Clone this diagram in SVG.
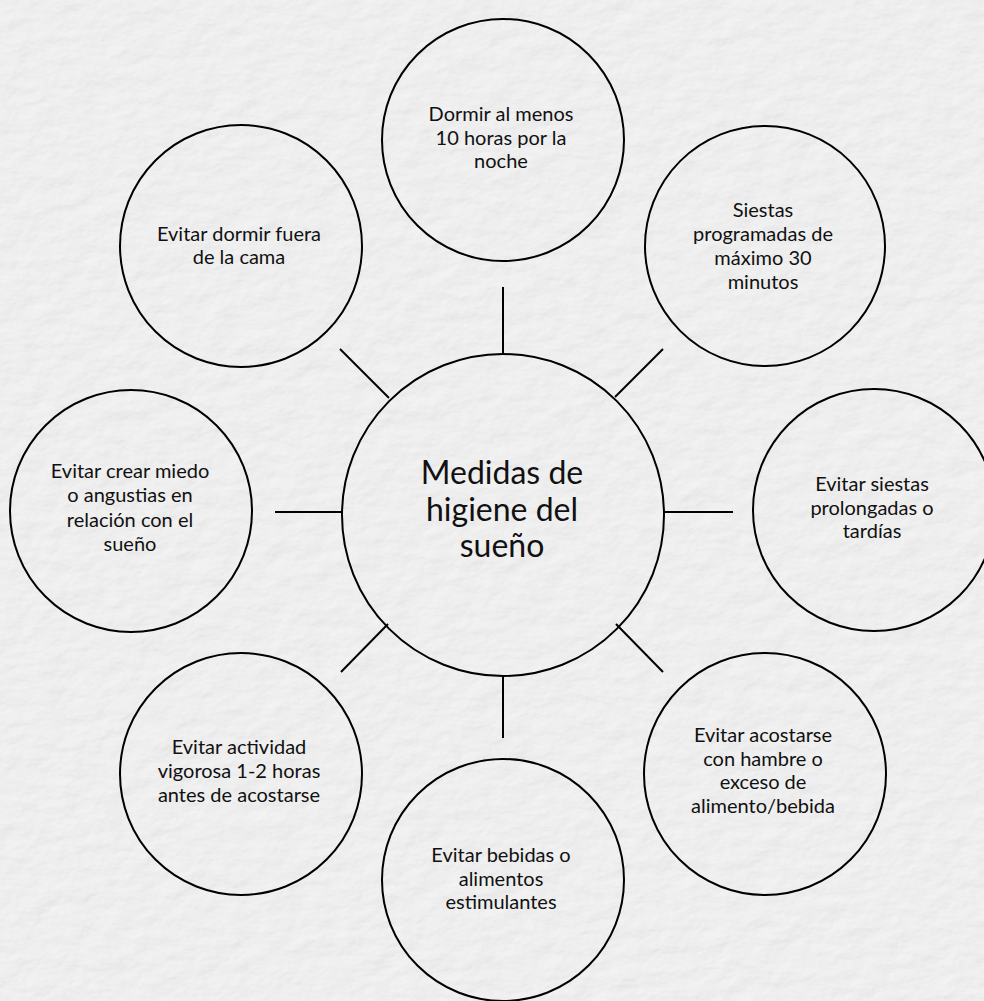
<svg xmlns="http://www.w3.org/2000/svg" width="984" height="1001" viewBox="0 0 984 1001">
<defs>
<style>
.node{fill:none;stroke:#000;stroke-width:2}
.conn line{stroke:#000;stroke-width:2}
text{font-family:Lato,"Liberation Sans",sans-serif;fill:#111;text-anchor:middle}
.t{font-size:20px}
.c{font-size:32px}
</style>
<filter id="paper" x="0" y="0" width="100%" height="100%">
<feTurbulence type="fractalNoise" baseFrequency="0.035 0.06" numOctaves="5" seed="3" result="n"/>
<feDiffuseLighting in="n" surfaceScale="2" lighting-color="#ffffff" diffuseConstant="1" result="l">
<feDistantLight azimuth="225" elevation="55"/>
</feDiffuseLighting>
<feColorMatrix type="matrix" values="0.3 0 0 0 0.61  0.3 0 0 0 0.61  0.3 0 0 0 0.61  0 0 0 0 1"/>
</filter>
</defs>
<rect width="984" height="1001" fill="#e4e4e4"/>
<rect width="984" height="1001" filter="url(#paper)"/>
<g class="conn">
<line x1="503" y1="287" x2="503" y2="354"/>
<line x1="503" y1="676" x2="503" y2="738"/>
<line x1="275" y1="512" x2="342" y2="512"/>
<line x1="665" y1="512" x2="733" y2="512"/>
<line x1="340" y1="349" x2="389" y2="398"/>
<line x1="663" y1="349" x2="615" y2="397"/>
<line x1="341" y1="672" x2="388" y2="624"/>
<line x1="663" y1="672" x2="616" y2="624"/>
</g>
<g id="center"><circle class="node" cx="503" cy="515" r="161"/>
<text class="c"><tspan x="502" y="484">Medidas de</tspan><tspan x="502" y="520.5">higiene del</tspan><tspan x="502" y="557">sueño</tspan></text></g>
<g id="n1"><circle class="node" cx="503" cy="140" r="121"/>
<text class="t"><tspan x="501" y="121">Dormir al menos</tspan><tspan x="501" y="144.5">10 horas por la</tspan><tspan x="501" y="168">noche</tspan></text></g>
<g id="n2"><circle class="node" cx="765" cy="246" r="120"/>
<text class="t"><tspan x="763" y="217">Siestas</tspan><tspan x="763" y="241">programadas de</tspan><tspan x="763" y="265">máximo 30</tspan><tspan x="763" y="289">minutos</tspan></text></g>
<g id="n3"><circle class="node" cx="874" cy="510" r="121"/>
<text class="t"><tspan x="872" y="491">Evitar siestas</tspan><tspan x="872" y="515">prolongadas o</tspan><tspan x="872" y="538">tardías</tspan></text></g>
<g id="n4"><circle class="node" cx="765" cy="774" r="121"/>
<text class="t"><tspan x="763" y="742">Evitar acostarse</tspan><tspan x="763" y="766">con hambre o</tspan><tspan x="763" y="789">exceso de</tspan><tspan x="763" y="813">alimento/bebida</tspan></text></g>
<g id="n5"><circle class="node" cx="503" cy="880" r="121"/>
<text class="t"><tspan x="501" y="862">Evitar bebidas o</tspan><tspan x="501" y="886">alimentos</tspan><tspan x="501" y="909">estimulantes</tspan></text></g>
<g id="n6"><circle class="node" cx="241" cy="774" r="121"/>
<text class="t"><tspan x="239" y="754">Evitar actividad</tspan><tspan x="239" y="778">vigorosa 1-2 horas</tspan><tspan x="239" y="802">antes de acostarse</tspan></text></g>
<g id="n7"><circle class="node" cx="131" cy="511" r="121"/>
<text class="t"><tspan x="130" y="478">Evitar crear miedo</tspan><tspan x="130" y="502">o angustias en</tspan><tspan x="130" y="527">relación con el</tspan><tspan x="130" y="551">sueño</tspan></text></g>
<g id="n8"><circle class="node" cx="241" cy="246" r="121"/>
<text class="t"><tspan x="239" y="241">Evitar dormir fuera</tspan><tspan x="239" y="264">de la cama</tspan></text></g>
</svg>
